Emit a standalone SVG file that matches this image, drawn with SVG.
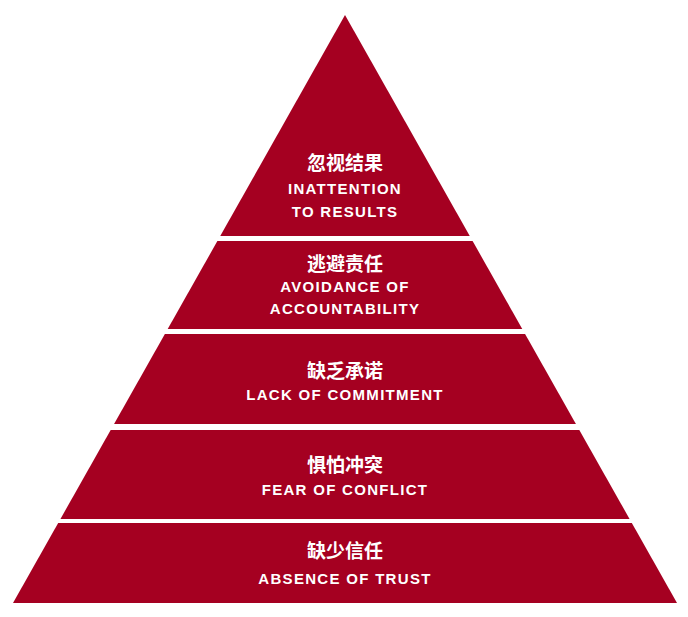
<svg xmlns="http://www.w3.org/2000/svg" width="688" height="617" viewBox="0 0 688 617">
<style>
.cn{font-family:"Noto Sans CJK SC",sans-serif;font-weight:700;font-size:19px;fill:#fff;text-anchor:middle}
.en{font-family:"Liberation Sans",sans-serif;font-weight:700;font-size:15px;fill:#fff;text-anchor:middle;letter-spacing:1.3px}
</style>
<rect width="688" height="617" fill="#fff"/>
<polygon points="345,15 677,603 13,603" fill="#A50021"/>
<g fill="#fff">
<rect x="0" y="236" width="688" height="5"/>
<rect x="0" y="329" width="688" height="5"/>
<rect x="0" y="424" width="688" height="6"/>
<rect x="0" y="519" width="688" height="4"/>
</g>
<g id="n1"><text class="cn" x="345" y="170">忽视结果</text><text class="en" x="345" y="194">INATTENTION</text><text class="en" x="345" y="217">TO RESULTS</text></g>
<g id="n2"><text class="cn" x="345" y="271">逃避责任</text><text class="en" x="345" y="292">AVOIDANCE OF</text><text class="en" x="345" y="314">ACCOUNTABILITY</text></g>
<g id="n3"><text class="cn" x="345" y="378">缺乏承诺</text><text class="en" x="345" y="400">LACK OF COMMITMENT</text></g>
<g id="n4"><text class="cn" x="345" y="472">惧怕冲突</text><text class="en" x="345" y="495">FEAR OF CONFLICT</text></g>
<g id="n5"><text class="cn" x="345" y="558">缺少信任</text><text class="en" x="345" y="584">ABSENCE OF TRUST</text></g>
<g id="connectors"/>
</svg>
